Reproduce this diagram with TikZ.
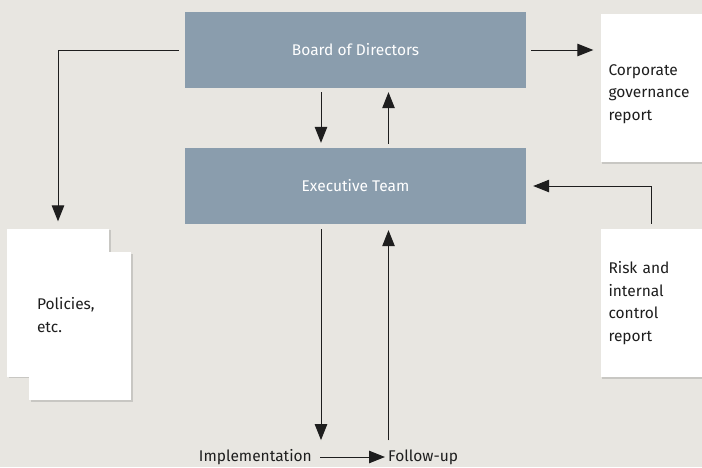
\documentclass[tikz,border=0pt]{standalone}
\usepackage{fontspec}
\setmainfont{Fira Sans}
\usetikzlibrary{arrows.meta,shadows,positioning}

\definecolor{paper}{HTML}{E8E6E1}
\definecolor{slate}{HTML}{8A9DAD}
\definecolor{ink}{HTML}{1E1E1E}

\begin{document}
\begin{tikzpicture}[x=1pt,y=-1pt]
  \tikzstyle{every node}=[font=\fontsize{15.5}{22.5}\selectfont,text=ink]
  \tikzstyle{body}=[rectangle,fill=slate,text=white,minimum width=341pt,minimum height=76pt]
  \tikzstyle{doc}=[rectangle,fill=white,minimum width=102pt,minimum height=148pt,
                   text width=86pt,inner xsep=8pt,align=left,
                   drop shadow={shadow xshift=1.5pt,shadow yshift=-1.5pt,opacity=0.3}]
  \tikzstyle{flow}=[draw=ink,line width=1pt,-{Triangle[length=16pt,width=12.5pt]}]

  \fill[paper] (0,0) rectangle (702,467);
  \useasboundingbox (0,0) rectangle (702,467);

  \node[body] (board) at (355.5,50)  {Board of Directors};
  \node[body] (exec)  at (355.5,186) {Executive Team};

  \node[doc]  (cgr)   at (651.5,88)  {\mbox{}\\Corporate\\governance\\report};
  \node[doc]  (risk)  at (651.5,303) {Risk and\\internal\\control\\report};

  \node[doc]  (pol0)  at (58,302.5)  {};
  \node[doc]  (pol)   at (80,326)    {Policies,\\etc.\\\mbox{}};

  \node[inner sep=0pt,anchor=east] (impl)   at (312,457) {Implementation};
  \node[inner sep=0pt,anchor=west] (follow) at (388,457) {Follow-up};

  % board to the documents
  \draw[flow,shorten <=6pt,shorten >=7pt] (board.west) -| (pol0.north);
  \draw[flow,shorten <=5pt,shorten >=7pt] (board.east) -- (board.east -| cgr.west);

  % between the two boxes
  \draw[flow,shorten <=4pt,shorten >=5pt] ([xshift=-34.5pt]board.south) -- ([xshift=-34.5pt]exec.north);
  \draw[flow,shorten <=4pt,shorten >=4pt] ([xshift=33pt]exec.north) -- ([xshift=33pt]board.south);

  % report back to the team
  \draw[flow,shorten <=5pt,shorten >=7pt] (risk.north) |- (exec.east);

  % down to the work and back up
  \draw[flow,shorten <=5pt,shorten >=9pt] ([xshift=-34.5pt]exec.south) -- ([xshift=-34.5pt]exec.south |- impl.north);
  \draw[flow,shorten <=9pt,shorten >=6pt] ([xshift=33pt]exec.south |- follow.north) -- ([xshift=33pt]exec.south);
  \draw[flow,shorten <=8pt,shorten >=3pt] (impl.east) -- (follow.west);
\end{tikzpicture}
\end{document}
